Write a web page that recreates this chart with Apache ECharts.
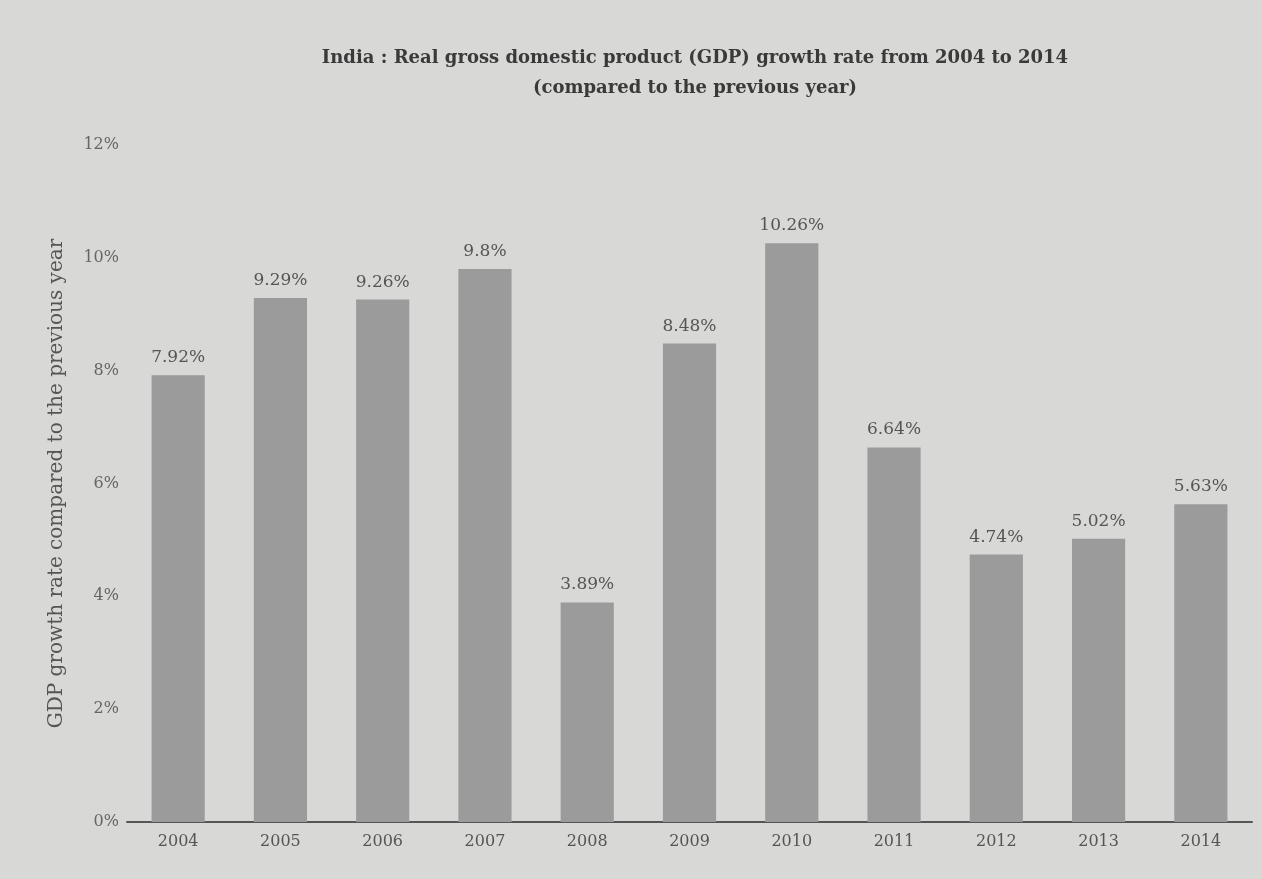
<!DOCTYPE html>
<html><head><meta charset="utf-8">
<script src="https://cdn.jsdelivr.net/npm/echarts@6/dist/echarts.min.js"></script>
<style>html,body{margin:0;padding:0;background:#d8d8d6;}#c{width:1262px;height:879px;}</style>
</head><body><div id="c"></div>
<script>
const years = ['2004','2005','2006','2007','2008','2009','2010','2011','2012','2013','2014'];
const growth = [7.92, 9.29, 9.26, 9.8, 3.89, 8.48, 10.26, 6.64, 4.74, 5.02, 5.63];
const titleLines = ['India : Real gross domestic product (GDP) growth rate from 2004 to 2014', '(compared to the previous year)'];
const yName = 'GDP growth rate compared to the previous year';

const chart = echarts.init(document.getElementById('c'));
const serif = '"DejaVu Serif", "Liberation Serif", serif';
chart.setOption({
  backgroundColor: '#d8d8d6',
  animation: false,
  title: {
    text: titleLines.join('\n'),
    left: 690, top: 38, textAlign: 'center',
    textStyle: { fontFamily: serif, fontSize: 18, fontWeight: 'bold', color: '#3a3a3a', lineHeight: 30 }
  },
  grid: { left: 127, right: 10, top: 145, bottom: 57 },
  xAxis: {
    type: 'category', data: years,
    axisLine: { lineStyle: { color: '#555', width: 2 } },
    axisTick: { show: false },
    axisLabel: { fontFamily: serif, fontSize: 16, color: '#555', margin: 12 }
  },
  yAxis: {
    type: 'value', min: 0, max: 12, interval: 2,
    name: yName, nameLocation: 'middle', nameGap: 60, nameRotate: 90,
    nameTextStyle: { fontFamily: serif, fontSize: 20, color: '#555' },
    axisLine: { show: false }, axisTick: { show: false },
    splitLine: { show: false },
    axisLabel: { fontFamily: serif, fontSize: 16, color: '#666', margin: 8, formatter: v => v + '%' }
  },
  series: [{
    type: 'bar', data: growth, barWidth: '52%',
    itemStyle: { color: '#9b9b9b' },
    label: { show: true, position: 'top', distance: 9, fontFamily: serif, fontSize: 17, color: '#555',
      formatter: p => p.value + '%' }
  }]
});
</script></body></html>
